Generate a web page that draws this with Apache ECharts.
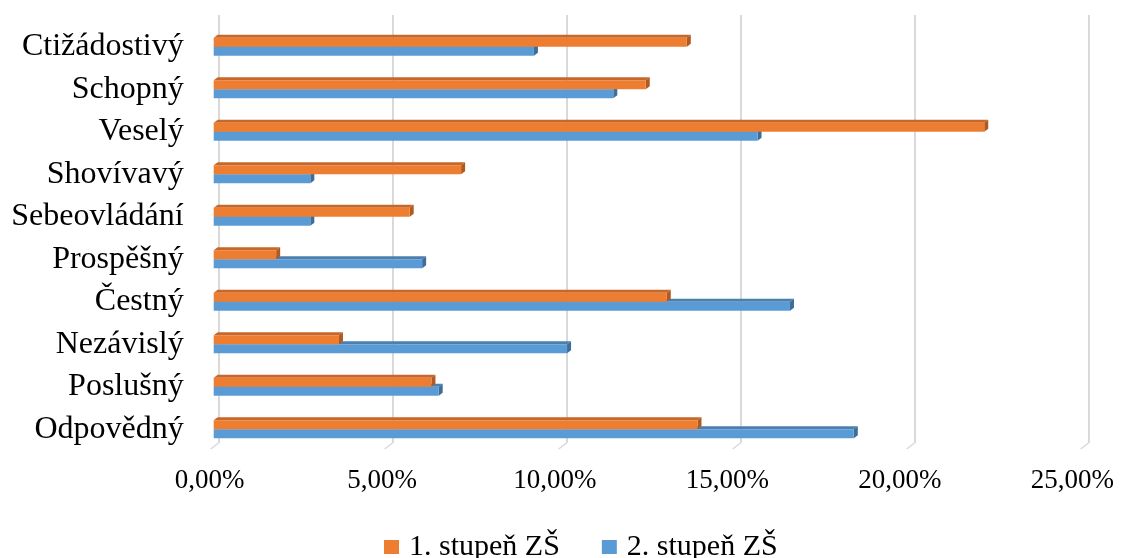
<!DOCTYPE html>
<html>
<head>
<meta charset="utf-8">
<style>
  html, body { margin: 0; padding: 0; background: #fff; }
  #chart { width: 1125px; height: 558px; }
</style>
<script src="https://cdn.jsdelivr.net/npm/echarts@6/dist/echarts.min.js"></script>
</head>
<body>
<div id="chart"></div>
<script>
// Categories listed top to bottom
const categories = ['Ctižádostivý', 'Schopný', 'Veselý', 'Shovívavý', 'Sebeovládání',
  'Prospěšný', 'Čestný', 'Nezávislý', 'Poslušný', 'Odpovědný'];
// Share of answers in percent
const stupen1 = [13.71, 12.52, 22.33, 7.17, 5.68, 1.81, 13.13, 3.63, 6.31, 14.02];
const stupen2 = [9.28, 11.58, 15.76, 2.80, 2.80, 6.04, 16.70, 10.24, 6.52, 18.55];
const seriesNames = ['1. stupeň ZŠ', '2. stupeň ZŠ'];
// Axis ticks (percent)
const tickValues = [0, 5, 10, 15, 20, 25];

const FONT = '"Liberation Serif", "Times New Roman", serif';
const BAR_H = 9;        // thickness of each bar front face
const DEPTH = [4, -3];  // oblique offset of the 3D faces

const palette = {
  orange: { front: '#ED7D31', top: '#C7672A', side: '#B05A20' },
  blue:   { front: '#5B9BD5', top: '#4A7FB0', side: '#3E6D99' }
};

function bar3d(colors, upper) {
  return function (params, api) {
    const v = api.value(0);
    const idx = api.value(1);
    const s = api.coord([0, idx]);
    const e = api.coord([v, idx]);
    const x0 = s[0], x1 = e[0];
    const y0 = upper ? s[1] - BAR_H : s[1];
    const dx = DEPTH[0], dy = DEPTH[1];
    return {
      type: 'group',
      children: [
        { type: 'polygon', shape: { points: [[x0, y0], [x1, y0], [x1 + dx, y0 + dy], [x0 + dx, y0 + dy]] },
          style: { fill: colors.top } },
        { type: 'polygon', shape: { points: [[x1, y0], [x1 + dx, y0 + dy], [x1 + dx, y0 + BAR_H + dy], [x1, y0 + BAR_H]] },
          style: { fill: colors.side } },
        { type: 'rect', shape: { x: x0, y: y0, width: x1 - x0, height: BAR_H },
          style: { fill: colors.front } }
      ]
    };
  };
}

const chart = echarts.init(document.getElementById('chart'), null, { renderer: 'canvas' });

chart.setOption({
  animation: false,
  backgroundColor: '#ffffff',
  grid: [
    // bars
    { left: 213.7, top: 25.45, width: 870, height: 425.15, containLabel: false },
    // back wall with the gridlines
    { left: 218.7, top: 15, width: 870, height: 427, containLabel: false }
  ],
  xAxis: [
    {
      gridIndex: 0, type: 'value', min: 0, max: 25, interval: 5,
      axisLine: { show: false }, axisTick: { show: false }, splitLine: { show: false },
      axisLabel: {
        fontFamily: FONT, fontSize: 27, color: '#000', margin: 15, lineHeight: 30,
        padding: [0, 8, 0, 0],
        formatter: v => v.toFixed(2).replace('.', ',') + '%'
      }
    },
    {
      gridIndex: 1, type: 'value', min: 0, max: 25, interval: 5,
      axisLine: { show: false }, axisTick: { show: false }, axisLabel: { show: false },
      splitLine: { show: true, lineStyle: { color: '#d9d9d9', width: 2 } }
    }
  ],
  yAxis: [
    {
      gridIndex: 0, type: 'category', data: categories, inverse: true,
      axisLine: { show: false }, axisTick: { show: false },
      axisLabel: {
        fontFamily: FONT, fontSize: 32, color: '#000', margin: 30,
        padding: [0, 0, 5, 0]
      }
    },
    { gridIndex: 1, type: 'value', min: 0, max: 1, show: false }
  ],
  legend: {
    data: seriesNames.map(n => ({ name: n, icon: 'rect' })),
    left: 379, top: 527,
    itemWidth: 15, itemHeight: 14, itemGap: 42,
    textStyle: { fontFamily: FONT, fontSize: 30, color: '#000', lineHeight: 30, padding: [0, 0, 0, 5] }
  },
  series: [
    {
      name: seriesNames[0], type: 'custom', xAxisIndex: 0, yAxisIndex: 0, z: 4,
      itemStyle: { color: palette.orange.front },
      renderItem: bar3d(palette.orange, true),
      encode: { x: 0, y: 1 },
      data: stupen1.map((v, i) => [v, i])
    },
    {
      name: seriesNames[1], type: 'custom', xAxisIndex: 0, yAxisIndex: 0, z: 3,
      itemStyle: { color: palette.blue.front },
      renderItem: bar3d(palette.blue, false),
      encode: { x: 0, y: 1 },
      data: stupen2.map((v, i) => [v, i])
    },
    {
      // short slanted floor ticks under each gridline
      type: 'custom', xAxisIndex: 1, yAxisIndex: 1, z: 1, silent: true,
      renderItem: function (params, api) {
        const p = api.coord([api.value(0), 0]);
        return {
          type: 'line',
          shape: { x1: p[0] + 1, y1: p[1], x2: p[0] - 8, y2: p[1] + 7 },
          style: { stroke: '#d9d9d9', lineWidth: 1.5 }
        };
      },
      data: tickValues.map(v => [v, 0])
    }
  ]
});
</script>
</body>
</html>
